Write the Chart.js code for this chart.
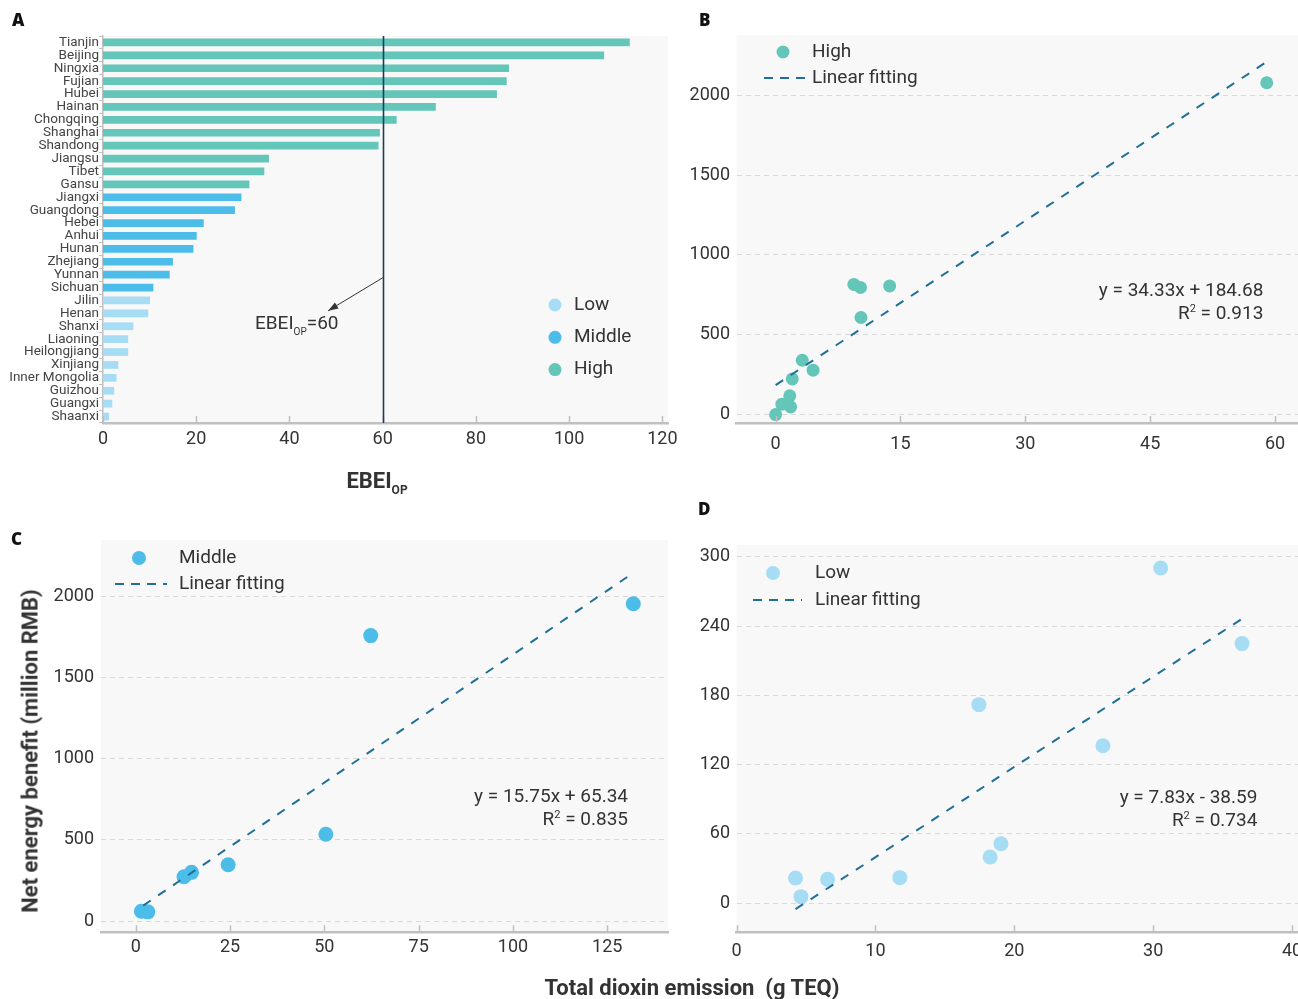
<!DOCTYPE html>
<html>
<head>
<meta charset="utf-8">
<title>EBEI and net energy benefit</title>
<script src="https://cdn.jsdelivr.net/npm/chart.js@4.4.1/dist/chart.umd.min.js"></script>
<style>
  html, body { margin: 0; padding: 0; background: #fff; }
  #wrap { position: relative; width: 1298px; height: 999px; overflow: hidden; font-family: Roboto, sans-serif; color: #333; }
  canvas { position: absolute; }
  .tag { position: absolute; font-family: "Open Sans", sans-serif; font-weight: 800; font-size: 17px; color: #111; line-height: 1; }
  .title { position: absolute; font-family: Roboto, sans-serif; font-weight: 700; font-size: 22px; color: #333; white-space: nowrap; transform: translate(-50%, -50%); }
</style>
</head>
<body>
<div id="wrap">
  <canvas id="cA" width="690" height="500" style="left:0;top:0"></canvas>
  <canvas id="cB" width="635" height="470" style="left:690px;top:0"></canvas>
  <canvas id="cC" width="690" height="499" style="left:0;top:500px"></canvas>
  <canvas id="cD" width="635" height="499" style="left:690px;top:500px"></canvas>

  <div class="tag" style="left:12px;top:11px">A</div>
  <div class="tag" style="left:699px;top:11px">B</div>
  <div class="tag" style="left:11px;top:530px">C</div>
  <div class="tag" style="left:698px;top:500px">D</div>

  <div class="title" style="left:30px;top:751px;transform:translate(-50%,-50%) rotate(-90deg)">Net energy benefit (million RMB)</div>
  <div class="title" style="left:692px;top:987px">Total dioxin emission&nbsp; (g TEQ)</div>
</div>

<script>
// ---- panel A : EBEI_OP by province ----
const provinces = ['Tianjin','Beijing','Ningxia','Fujian','Hubei','Hainan','Chongqing','Shanghai','Shandong','Jiangsu',
  'Tibet','Gansu','Jiangxi','Guangdong','Hebei','Anhui','Hunan','Zhejiang','Yunnan','Sichuan',
  'Jilin','Henan','Shanxi','Liaoning','Heilongjiang','Xinjiang','Inner Mongolia','Guizhou','Guangxi','Shaanxi'];
const ebeiValues = [113.0, 107.5, 87.1, 86.6, 84.5, 71.4, 63.0, 59.4, 59.1, 35.6,
  34.6, 31.4, 29.7, 28.3, 21.6, 20.1, 19.4, 15.0, 14.3, 10.8,
  10.1, 9.7, 6.5, 5.4, 5.4, 3.3, 2.9, 2.4, 2.0, 1.3];
const provinceGroup = ['High','High','High','High','High','High','High','High','High','High',
  'High','High','Middle','Middle','Middle','Middle','Middle','Middle','Middle','Middle',
  'Low','Low','Low','Low','Low','Low','Low','Low','Low','Low'];
const groupOrder = ['Low','Middle','High'];
const ebeiTicks = [0, 20, 40, 60, 80, 100, 120];
const ebeiThreshold = 60;

// ---- panel B : High group ----
const highX = [0.0, 0.75, 1.7, 1.8, 2.0, 3.2, 4.5, 9.4, 10.2, 10.25, 13.7, 59.0];
const highY = [0, 65, 117, 48, 223, 340, 278, 815, 796, 608, 806, 2079];
const highFitX = [0, 59];
const highFitY = [184.7, 2210.2];
const highTicksX = [0, 15, 30, 45, 60];

// ---- panel C : Middle group ----
const middleX = [1.5, 3.2, 12.8, 14.8, 24.5, 50.4, 62.3, 131.9];
const middleY = [62, 58, 274, 301, 348, 535, 1757, 1953];
const middleFitX = [2, 131.9];
const middleFitY = [96.8, 2142.8];
const middleTicksX = [0, 25, 50, 75, 100, 125];

const benefitTicks = [0, 500, 1000, 1500, 2000];

// ---- panel D : Low group ----
const lowX = [4.25, 4.64, 6.56, 11.76, 17.45, 18.26, 19.04, 26.38, 30.54, 36.4];
const lowY = [21.7, 5.5, 20.5, 22, 172, 39.9, 51.4, 136.4, 290.5, 224.9];
const lowFitX = [4.25, 36.4];
const lowFitY = [-5.3, 246.4];
const lowTicksX = [0, 10, 20, 30, 40];
const lowTicksY = [0, 60, 120, 180, 240, 300];

const INK = '#333333';
const COLORS = { Low: '#a6dcf4', Middle: '#4cbde9', High: '#63c6b8' };
const FIT_COLOR = '#1f6f98';
const AXIS_GREY = '#c0c0c0';
const FONT = 'Roboto';

Chart.defaults.font.family = FONT;
Chart.defaults.color = INK;

function setTicks(list) {
  return s => { s.ticks = list.map(v => ({ value: v })); };
}
const plainLabel = v => String(v);

// text made of several runs (sub/superscripts)
function drawParts(ctx, parts, x, y, align) {
  ctx.save();
  ctx.textBaseline = 'alphabetic';
  ctx.fillStyle = INK;
  let total = 0;
  parts.forEach(p => { ctx.font = p.font; p.w = ctx.measureText(p.text).width; total += p.w; });
  let cx = align === 'right' ? x - total : align === 'center' ? x - total / 2 : x;
  parts.forEach(p => { ctx.font = p.font; ctx.fillText(p.text, cx, y + (p.dy || 0)); cx += p.w; });
  ctx.restore();
}

function dot(ctx, x, y, r, color) {
  ctx.save();
  ctx.fillStyle = color;
  ctx.beginPath(); ctx.arc(x, y, r, 0, Math.PI * 2); ctx.fill();
  ctx.restore();
}

function legendText(ctx, text, x, y) {
  ctx.save();
  ctx.font = '19px ' + FONT;
  ctx.fillStyle = INK;
  ctx.textBaseline = 'middle';
  ctx.fillText(text, x, y);
  ctx.restore();
}

// legend for scatter panels: a dot row and a dashed row
function drawKey(chart, k) {
  const { ctx, chartArea: a } = chart;
  dot(ctx, a.left + k.dot[0], a.top + k.dot[1], k.r, k.color);
  legendText(ctx, k.label, a.left + k.tx, a.top + k.dot[1]);
  ctx.save();
  ctx.strokeStyle = FIT_COLOR; ctx.lineWidth = 2; ctx.setLineDash([9, 7]);
  ctx.beginPath(); ctx.moveTo(a.left + k.line[0], a.top + k.line[2]); ctx.lineTo(a.left + k.line[1], a.top + k.line[2]); ctx.stroke();
  ctx.restore();
  legendText(ctx, 'Linear fitting', a.left + k.tx, a.top + k.line[2]);
}

function drawEquation(chart, eq, r2, at) {
  const { ctx, scales } = chart;
  const x = scales.x.getPixelForValue(at[0]);
  const y = scales.y.getPixelForValue(at[1]);
  drawParts(ctx, [{ text: eq, font: '19px ' + FONT }], x, y, 'right');
  drawParts(ctx, [
    { text: 'R', font: '19px ' + FONT },
    { text: '2', font: '11px ' + FONT, dy: -7 },
    { text: ' = ' + r2, font: '19px ' + FONT }
  ], x, y + 23, 'right');
}

const plotBg = {
  id: 'plotBg',
  beforeDraw(chart) {
    const { ctx, chartArea: a } = chart;
    ctx.save();
    ctx.fillStyle = '#f8f8f8';
    ctx.fillRect(a.left, a.top, a.right - a.left, a.bottom - a.top);
    ctx.restore();
  },
  afterDraw(chart) {
    // short inward tick marks on the bottom axis
    const { ctx, chartArea: a } = chart;
    const xs = chart.scales.x;
    ctx.save();
    ctx.strokeStyle = AXIS_GREY; ctx.lineWidth = 1.5;
    xs.ticks.forEach(t => {
      const p = Math.round(xs.getPixelForValue(t.value)) + 0.5;
      ctx.beginPath(); ctx.moveTo(p, a.bottom); ctx.lineTo(p, a.bottom - 7); ctx.stroke();
    });
    ctx.restore();
  }
};

function valueAxis(min, max, ticks, width, pad) {
  return {
    min: min, max: max,
    afterBuildTicks: setTicks(ticks),
    afterFit: s => { s.width = width; },
    grid: { color: '#d9d9d9', lineWidth: 1, drawTicks: false },
    border: { display: false, dash: [5, 4] },
    ticks: { padding: pad, font: { size: 18 }, color: INK, callback: plainLabel }
  };
}

function emissionAxis(min, max, ticks, height, pad) {
  return {
    type: 'linear', min: min, max: max,
    afterBuildTicks: setTicks(ticks),
    afterFit: s => { s.height = height; s.paddingLeft = 0; s.paddingRight = 0; },
    grid: { display: false, drawTicks: false },
    border: { display: true, color: AXIS_GREY, width: 2.5 },
    ticks: { padding: pad, font: { size: 18 }, color: INK, autoSkip: false, maxRotation: 0, callback: plainLabel }
  };
}

function points(xs, ys) { return xs.map((x, i) => ({ x: x, y: ys[i] })); }

function scatterPanel(id, cfg) {
  return new Chart(document.getElementById(id), {
    type: 'scatter',
    data: {
      datasets: [
        { data: points(cfg.fitX, cfg.fitY), showLine: true, borderColor: FIT_COLOR, borderWidth: 2, borderDash: [9, 9], pointRadius: 0, fill: false },
        { data: points(cfg.x, cfg.y), backgroundColor: cfg.color, borderWidth: 0, pointRadius: cfg.r, pointHoverRadius: cfg.r }
      ]
    },
    options: {
      responsive: false, animation: false, devicePixelRatio: 1,
      layout: { padding: cfg.padding, autoPadding: false },
      plugins: { legend: { display: false }, tooltip: { enabled: false } },
      scales: { x: cfg.xAxis, y: cfg.yAxis }
    },
    plugins: [plotBg, { id: 'deco', afterDraw: chart => { drawKey(chart, cfg.key); drawEquation(chart, cfg.eq, cfg.r2, cfg.eqAt); } }]
  });
}

// ---------- A ----------
new Chart(document.getElementById('cA'), {
  type: 'bar',
  data: {
    labels: provinces,
    datasets: [{ data: ebeiValues, backgroundColor: provinceGroup.map(g => COLORS[g]), barPercentage: 0.6, categoryPercentage: 1 }]
  },
  options: {
    indexAxis: 'y', responsive: false, animation: false, devicePixelRatio: 1,
    layout: { padding: { top: 36, right: 22, left: 0, bottom: 0 }, autoPadding: false },
    plugins: { legend: { display: false }, tooltip: { enabled: false } },
    scales: {
      x: {
        min: 0, max: 121.2,
        afterBuildTicks: setTicks(ebeiTicks),
        afterFit: s => { s.height = 77; s.paddingLeft = 0; s.paddingRight = 0; },
        grid: { display: false, drawTicks: false },
        border: { display: true, color: AXIS_GREY, width: 2.5 },
        ticks: { padding: 6, font: { size: 18 }, color: INK, autoSkip: false, maxRotation: 0, callback: plainLabel }
      },
      y: {
        afterFit: s => { s.width = 103; },
        grid: { drawOnChartArea: false, drawTicks: true, tickLength: 4, color: AXIS_GREY, offset: true },
        border: { display: true, color: AXIS_GREY, width: 1.5 },
        ticks: { padding: 0, font: { size: 13.5 }, color: '#444', autoSkip: false }
      }
    }
  },
  plugins: [plotBg, {
    id: 'decoA',
    afterDraw(chart) {
      const { ctx, chartArea: a, scales } = chart;
      const x60 = Math.round(scales.x.getPixelForValue(ebeiThreshold)) + 0.5;
      ctx.save();
      ctx.strokeStyle = '#1c3c60'; ctx.lineWidth = 1.6;
      ctx.beginPath(); ctx.moveTo(x60, a.top); ctx.lineTo(x60, a.bottom); ctx.stroke();
      // arrow pointing at the label
      const ex = scales.x.getPixelForValue(48.3), ey = a.top + 274.7;
      const sy = a.top + 241.3;
      ctx.strokeStyle = '#333'; ctx.lineWidth = 1;
      ctx.beginPath(); ctx.moveTo(x60, sy); ctx.lineTo(ex, ey); ctx.stroke();
      const ang = Math.atan2(ey - sy, ex - x60);
      ctx.fillStyle = '#333';
      ctx.beginPath();
      ctx.moveTo(ex, ey);
      ctx.lineTo(ex - 10 * Math.cos(ang) + 3.5 * Math.sin(ang), ey - 10 * Math.sin(ang) - 3.5 * Math.cos(ang));
      ctx.lineTo(ex - 10 * Math.cos(ang) - 3.5 * Math.sin(ang), ey - 10 * Math.sin(ang) + 3.5 * Math.cos(ang));
      ctx.closePath(); ctx.fill();
      ctx.restore();

      drawParts(ctx, [
        { text: 'EBEI', font: '19px ' + FONT },
        { text: 'OP', font: '10px ' + FONT, dy: 6 },
        { text: '=60', font: '19px ' + FONT }
      ], scales.x.getPixelForValue(32.6), a.top + 293.3, 'left');

      // group legend
      groupOrder.forEach((g, i) => {
        const y = a.top + 269 + i * 32.3;
        dot(ctx, a.left + 452, y, 6.5, COLORS[g]);
        legendText(ctx, g, a.left + 471, y);
      });

      // axis title
      drawParts(ctx, [
        { text: 'EBEI', font: 'bold 22px ' + FONT },
        { text: 'OP', font: 'bold 12px ' + FONT, dy: 6 }
      ], 377, 488, 'center');
    }
  }]
});

// ---------- B ----------
scatterPanel('cB', {
  x: highX, y: highY, fitX: highFitX, fitY: highFitY, color: COLORS.High, r: 6.5,
  padding: { top: 35, right: 0, left: 0, bottom: 0 },
  xAxis: emissionAxis(-4.7, 66.0, highTicksX, 47, 11),
  yAxis: valueAxis(-53, 2378, benefitTicks, 46.5, 6.5),
  key: { color: COLORS.High, r: 6.5, label: 'High', dot: [46.5, 17], line: [27.5, 68.5, 43], tx: 75.5 },
  eq: 'y = 34.33x + 184.68', r2: '0.913', eqAt: [58.6, 742]
});

// ---------- C ----------
scatterPanel('cC', {
  x: middleX, y: middleY, fitX: middleFitX, fitY: middleFitY, color: COLORS.Middle, r: 7.5,
  padding: { top: 40, right: 22, left: 0, bottom: 0 },
  xAxis: emissionAxis(-9.2, 141.1, middleTicksX, 66.7, 4),
  yAxis: valueAxis(-67.7, 2345, benefitTicks, 101, 7),
  key: { color: COLORS.Middle, r: 7, label: 'Middle', dot: [38, 18], line: [14, 66, 44], tx: 78 },
  eq: 'y = 15.75x + 65.34', r2: '0.835', eqAt: [130.5, 734]
});

// ---------- D ----------
scatterPanel('cD', {
  x: lowX, y: lowY, fitX: lowFitX, fitY: lowFitY, color: COLORS.Low, r: 7.5,
  padding: { top: 45, right: 0, left: 0, bottom: 0 },
  xAxis: emissionAxis(0, 42.37, lowTicksX, 66.7, 8),
  yAxis: valueAxis(-25.4, 310.4, lowTicksY, 46.5, 6.5),
  key: { color: COLORS.Low, r: 7, label: 'Low', dot: [36.5, 28], line: [16.5, 65.5, 55], tx: 78.5 },
  eq: 'y = 7.83x - 38.59', r2: '0.734', eqAt: [37.5, 86.7]
});
</script>
</body>
</html>
